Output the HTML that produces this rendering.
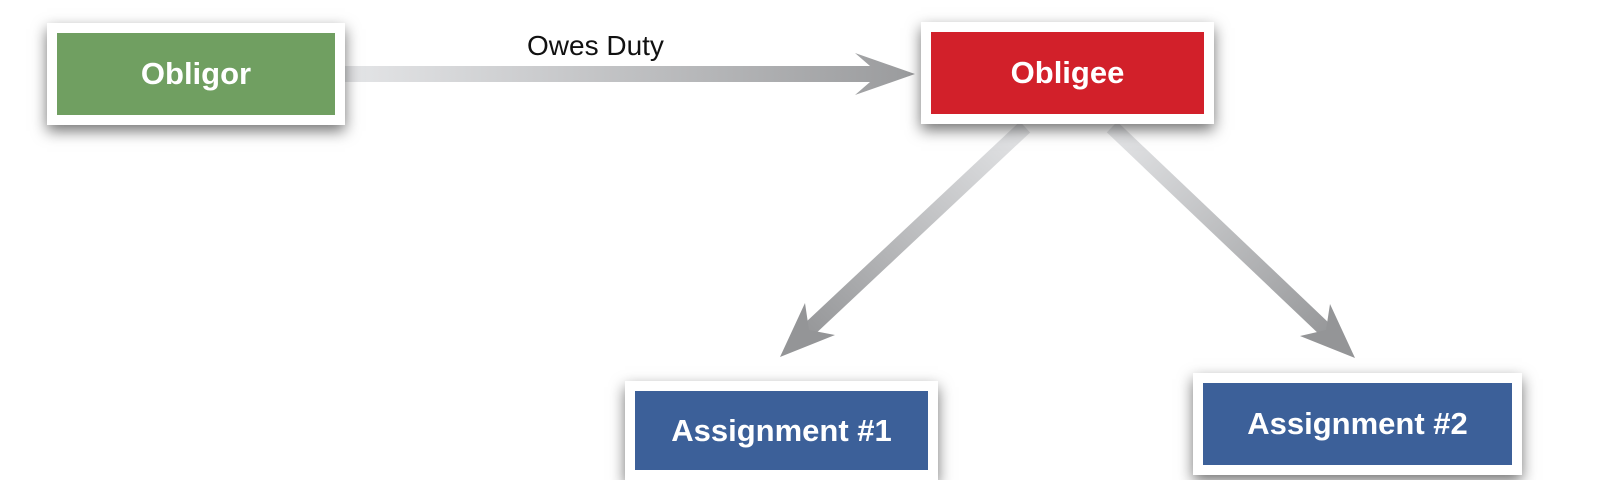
<!DOCTYPE html>
<html><head><meta charset="utf-8"><style>
body{margin:0;width:1600px;height:480px;background:#fff;overflow:hidden;position:relative;font-family:"Liberation Sans",sans-serif}
.b{position:absolute;background:#fff;box-shadow:0 6px 14px rgba(0,0,0,.55);box-sizing:border-box;padding:10px}
.b div{width:100%;height:100%;color:#fff;font-weight:bold;font-size:31px;display:flex;align-items:center;justify-content:center}
</style></head><body>
<svg width="1600" height="480" style="position:absolute;left:0;top:0">
<defs>
<linearGradient id="g1" x1="0" x2="1" y1="0" y2="0"><stop offset="0" stop-color="#e4e5e7"/><stop offset="1" stop-color="#9a9b9d"/></linearGradient>
<linearGradient id="g2" x1="1" x2="0" y1="0" y2="1"><stop offset="0" stop-color="#e4e5e7"/><stop offset="1" stop-color="#949597"/></linearGradient>
<linearGradient id="g3" x1="0" x2="1" y1="0" y2="1"><stop offset="0" stop-color="#e4e5e7"/><stop offset="1" stop-color="#949597"/></linearGradient>
</defs>
<polygon points="345,66 870,66 855,53 915,74 855,95 870,82 345,82" fill="url(#g1)"/>
<line x1="1025" y1="127" x2="800" y2="338" stroke="url(#g2)" stroke-width="15"/>
<polygon points="780,357 805,303 809,330 835,335" fill="#949597"/>
<line x1="1112" y1="127" x2="1336" y2="340" stroke="url(#g3)" stroke-width="15"/>
<polygon points="1355,358 1300,336 1326,330 1330,304" fill="#949597"/>
<text x="527" y="55" font-size="28" font-family="Liberation Sans, sans-serif" fill="#111">Owes Duty</text>
</svg>
<div class="b" style="left:47px;top:23px;width:298px;height:102px"><div style="background:#709f61">Obligor</div></div>
<div class="b" style="left:921px;top:22px;width:293px;height:102px"><div style="background:#d2202a">Obligee</div></div>
<div class="b" style="left:625px;top:381px;width:313px;height:99px"><div style="background:#3c6099">Assignment #1</div></div>
<div class="b" style="left:1193px;top:373px;width:329px;height:102px"><div style="background:#3c6099">Assignment #2</div></div>
</body></html>
